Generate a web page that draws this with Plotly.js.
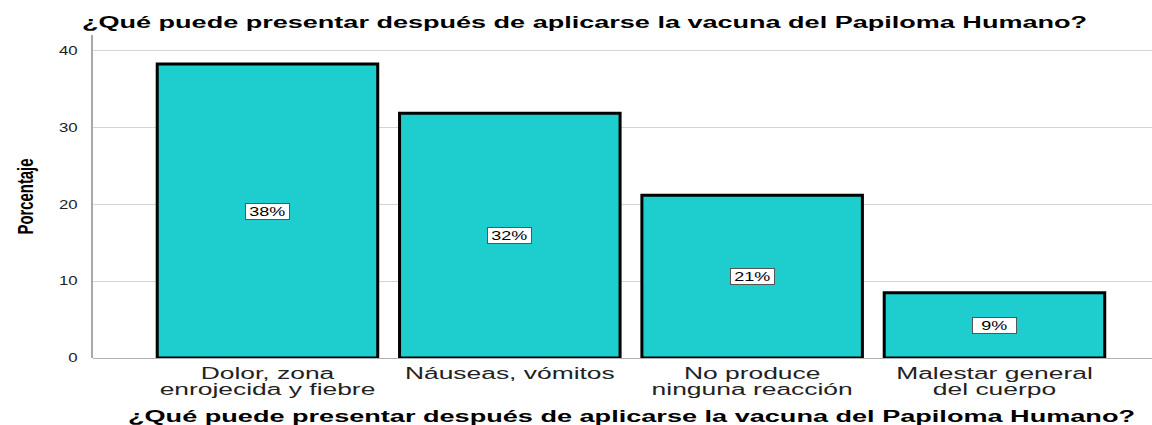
<!DOCTYPE html>
<html>
<head>
<meta charset="utf-8">
<script src="https://cdn.plot.ly/plotly-3.0.1.min.js"></script>
<style>
  html, body { margin: 0; padding: 0; background: #fff; }
  #chart { width: 1152px; height: 425px; }
</style>
</head>
<body>
<div id="chart"></div>
<script>
const categories = [
  "Dolor, zona<br>enrojecida y fiebre",
  "Náuseas, vómitos",
  "No produce<br>ninguna reacción",
  "Malestar general<br>del cuerpo"
];
const percentValues = [38.3, 31.9, 21.2, 8.5];
const percentLabels = ["38%", "32%", "21%", "9%"];
const yTickValues = [0, 10, 20, 30, 40];
const titleText = "¿Qué puede presentar después de aplicarse la vacuna del Papiloma Humano?";
const yTitleText = "Porcentaje";

const FONT = "Liberation Sans, Arial, sans-serif";

const trace = {
  type: "bar",
  x: categories,
  y: percentValues,
  width: 0.91,
  marker: { color: "#1ECDCD", line: { color: "#000000", width: 3 } },
  hoverinfo: "skip"
};

const annotations = categories.map((c, i) => ({
  x: c, y: percentValues[i] / 2, xref: "x", yref: "y",
  text: percentLabels[i], showarrow: false,
  font: { family: FONT, size: 12, color: "#000" },
  width: 41, height: 13,
  bgcolor: "#ffffff", bordercolor: "#555555", borderwidth: 1, borderpad: 1
}));

const layout = {
  width: 1152, height: 425,
  margin: { l: 93, r: 0, t: 35, b: 67 },
  paper_bgcolor: "#ffffff", plot_bgcolor: "#ffffff",
  showlegend: false,
  title: {
    text: titleText,
    font: { family: FONT, size: 16, color: "#000", weight: "bold" },
    x: 82 / 1152, xanchor: "left", y: 0.948, yanchor: "middle"
  },
  xaxis: {
    type: "category",
    range: [-0.72, 3.65],
    showgrid: false, zeroline: false, showline: false, ticks: "",
    ticklabelstandoff: 4,
    tickfont: { family: FONT, size: 16, color: "#222" },
    title: {
      text: titleText,
      font: { family: FONT, size: 16, color: "#000", weight: "bold" },
      standoff: 9
    }
  },
  yaxis: {
    range: [0, 42.08],
    tickvals: yTickValues,
    showgrid: true, gridcolor: "#d4d4d4", gridwidth: 1,
    zeroline: true, zerolinecolor: "#b0b0b0", zerolinewidth: 1,
    showline: true, linecolor: "#a8a8a8", linewidth: 2,
    ticks: "", ticklabelstandoff: 11,
    tickfont: { family: FONT, size: 12, color: "#222" },
    title: {
      text: yTitleText,
      font: { family: FONT, size: 22, color: "#000", weight: "bold" },
      standoff: 25
    }
  },
  annotations: annotations,
  bargap: 0.09
};

function stretch(el, factor) {
  const L = el.getComputedTextLength();
  if (!L) return;
  el.setAttribute("textLength", (L * factor).toFixed(1));
  el.setAttribute("lengthAdjust", "spacingAndGlyphs");
}
function stretchTo(el, target) {
  const L = el.getComputedTextLength();
  if (!L) return;
  stretch(el, target / L);
}

Plotly.newPlot("chart", [trace], layout, { displayModeBar: false, staticPlot: true }).then(gd => {
  const root = gd;
  root.querySelectorAll(".gtitle").forEach(t => stretchTo(t, 1005));
  root.querySelectorAll(".xtitle").forEach(t => {
    const plotCenter = 93 + (1152 - 93) / 2;
    t.setAttribute("x", plotCenter + 9);
    stretchTo(t, 1007);
  });
  root.querySelectorAll(".ytitle").forEach(t => stretchTo(t, 76));
  root.querySelectorAll(".xtick text").forEach(t => {
    const lines = t.querySelectorAll("tspan.line");
    if (lines.length) {
      lines.forEach((ln, k) => {
        if (k > 0) ln.setAttribute("dy", "1.0em");
        stretch(ln, 1.65);
      });
    } else {
      stretch(t, 1.65);
    }
  });
  root.querySelectorAll(".ytick text").forEach(t => stretch(t, 1.4));
  root.querySelectorAll(".annotation-text").forEach(t => stretch(t, 1.5));
});
</script>
</body>
</html>
